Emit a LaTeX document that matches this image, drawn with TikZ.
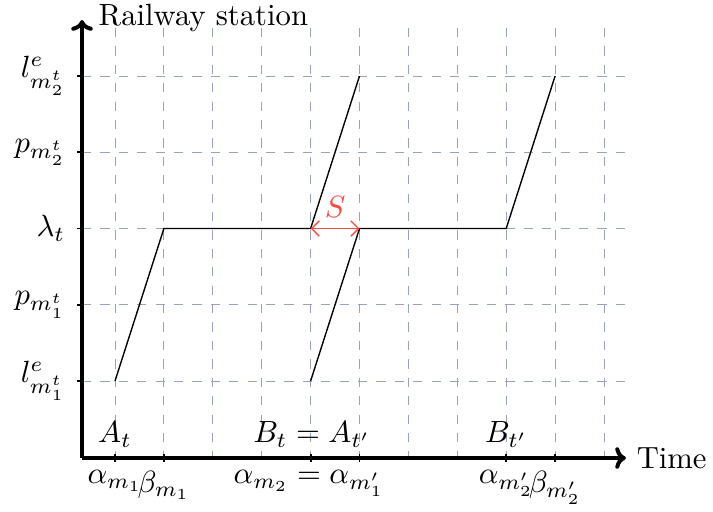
\documentclass[tikz,border=0pt]{standalone}
\usetikzlibrary{arrows.meta}
\definecolor{gridc}{RGB}{150,162,192}
\definecolor{sred}{RGB}{245,75,65}
\begin{document}
\begin{tikzpicture}[x={(0.326pt,0pt)},y={(0pt,-0.326pt)},
  gridline/.style={gridc,dashed,line width=0.3pt},
  axisline/.style={line width=1.3pt,-{To[length=3.5pt,width=7pt]}},
  trackline/.style={black,line width=0.45pt},
  tickmark/.style={line width=0.6pt},
  lab/.style={inner sep=3.3pt}]
\useasboundingbox (0,0) rectangle (713,511);
% grid
\foreach \k in {0,...,10}{
  \draw[gridline] ({115+48.9*\k},28) -- ({115+48.9*\k},458);
}
\foreach \k in {0,...,4}{
  \draw[gridline] (82,{381-76.25*\k}) -- (627,{381-76.25*\k});
}
% axes
\coordinate (O) at (82,458);
\coordinate (xe) at (626,458);
\coordinate (ye) at (82,20);
\draw[axisline] (O) -- (xe);
\draw[axisline] (O) -- (ye);
\node[lab,anchor=west] (ylab) at (88,18) {Railway station};
\node[lab,right] (xlab) at (xe) {Time};
% y ticks and labels
\foreach \k/\t in {0/{l^e_{m_1^t}},1/{p_{m_1^t}},2/{\lambda_t},3/{p_{m_2^t}},4/{l^e_{m_2^t}}}{
  \draw[tickmark] (77,{381-76.25*\k}) -- (82,{381-76.25*\k});
  \node[lab,left] (yl\k) at (76,{381-76.25*\k}) {$\t$};
}
% x ticks
\foreach \x in {115,163.9,310.6,359.5,506.2,555.1}{
  \draw[tickmark] (\x,454) -- (\x,462);
}
% labels above axis
\node[lab,above] (At) at (115,458) {$A_t$};
\node[lab,above] (Bt) at (312,458) {$B_t = A_{t'}$};
\node[lab,above] (Btp) at (506.2,458) {$B_{t'}$};
% labels below axis
\node[lab,below] (a1) at (115,460) {$\alpha_{m_1}$};
\node[lab,below] (b1) at (163.9,460) {$\beta_{m_1}$};
\node[lab,below] (a2) at (309,460) {$\alpha_{m_2} = \alpha_{m'_1}$};
\node[lab,below] (a2p) at (506.2,460) {$\alpha_{m'_2}$};
\node[lab,below] (b2p) at (555.1,460) {$\beta_{m'_2}$};
% track lines
\coordinate (p1) at (115,381);
\coordinate (p2) at (163.9,228.5);
\coordinate (p3) at (310.6,228.5);
\coordinate (p4) at (359.5,76);
\coordinate (q1) at (310.6,381);
\coordinate (q2) at (359.5,228.5);
\coordinate (q3) at (506.2,228.5);
\coordinate (q4) at (555.1,76);
\draw[trackline] (p1) -- (p2) -- (p3) -- (p4);
\draw[trackline] (q1) -- (q2) -- (q3) -- (q4);
% headway S
\draw[sred,line width=0.45pt,{Straight Barb[length=2.5pt,width=5pt]}-{Straight Barb[length=2.5pt,width=5pt]}] (p3) -- node[lab,above,text=sred] (S) {$S$} (q2);
\end{tikzpicture}
\end{document}
